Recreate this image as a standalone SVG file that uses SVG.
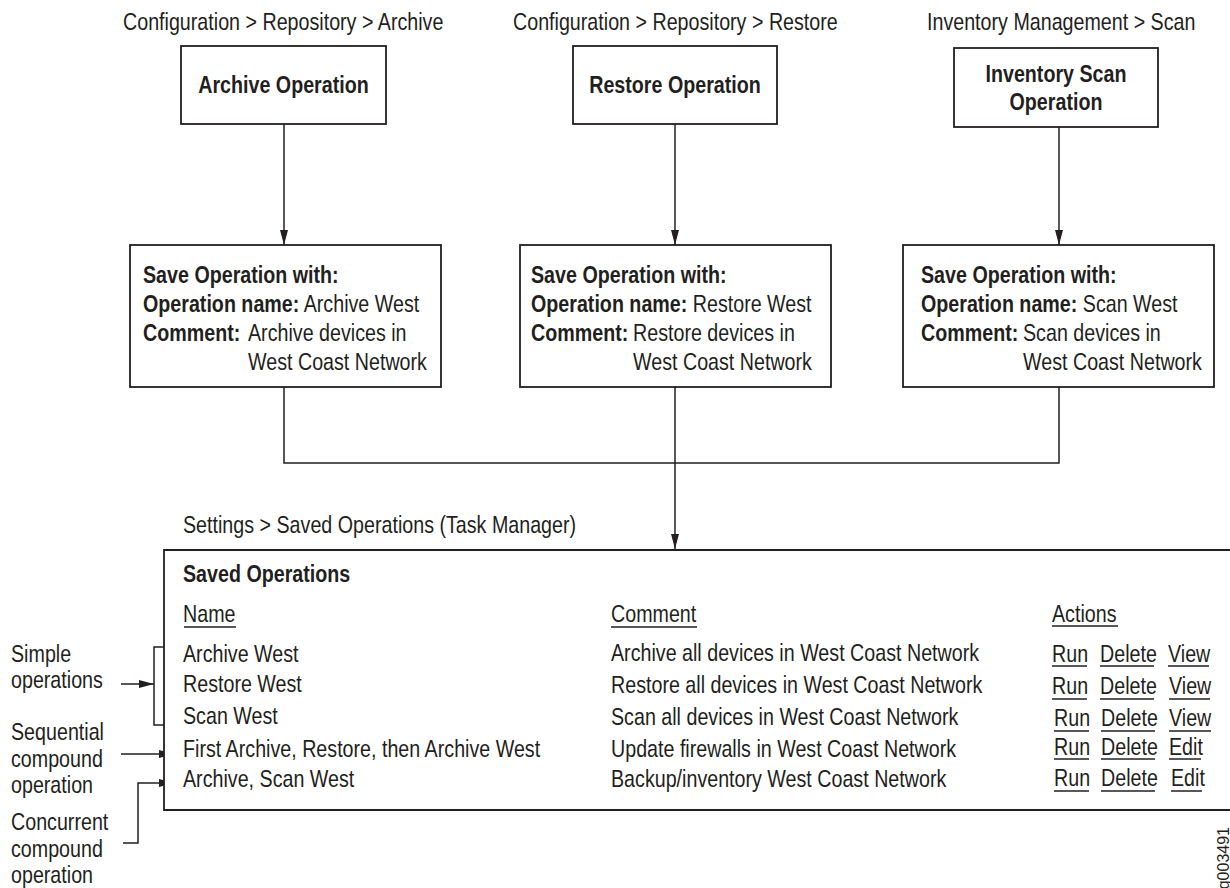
<svg xmlns="http://www.w3.org/2000/svg" width="1230" height="888" viewBox="0 0 1230 888">
<style>
text{font-family:"Liberation Sans",Arial,"Helvetica",sans-serif;font-size:24px;fill:#231f20}
.b{font-weight:bold}
.box{fill:#fff;stroke:#231f20;stroke-width:1.8}
.ln{fill:none;stroke:#231f20;stroke-width:1.5}
.ul{fill:none;stroke:#231f20;stroke-width:1.5}
.mid{text-anchor:middle}
</style>
<defs>
<marker id="ah" viewBox="0 0 15 8" refX="15" refY="4" markerWidth="15" markerHeight="8" markerUnits="userSpaceOnUse" orient="auto">
<path d="M0,0 L15,4 L0,8 Z" fill="#231f20"/>
</marker>
</defs>
<rect width="1230" height="888" fill="#fff"/>

<g id="labels">
<text transform="translate(123,30) scale(.82,1)">Configuration &gt; Repository &gt; Archive</text>
<text transform="translate(513,30) scale(.82,1)">Configuration &gt; Repository &gt; Restore</text>
<text transform="translate(927,30) scale(.82,1)">Inventory Management &gt; Scan</text>
<text transform="translate(183,533) scale(.82,1)">Settings &gt; Saved Operations (Task Manager)</text>
</g>

<g id="archive-op">
<rect class="box" x="181" y="46" width="205" height="78"/>
<text class="b mid" transform="translate(283.5,93) scale(.82,1)">Archive Operation</text>
</g>
<g id="restore-op">
<rect class="box" x="573" y="46" width="204" height="78"/>
<text class="b mid" transform="translate(675,93) scale(.82,1)">Restore Operation</text>
</g>
<g id="scan-op">
<rect class="box" x="954" y="48" width="204" height="79"/>
<text class="b mid" transform="translate(1056,82) scale(.82,1)">Inventory Scan</text>
<text class="b mid" transform="translate(1056,110) scale(.82,1)">Operation</text>
</g>

<g id="archive-save">
<rect class="box" x="130" y="245" width="311" height="142"/>
<text class="b" transform="translate(143,283) scale(.82,1)">Save Operation with:</text>
<text transform="translate(143,312) scale(.82,1)"><tspan class="b">Operation name:</tspan> Archive West</text>
<text class="b" transform="translate(143,341) scale(.82,1)">Comment:</text>
<text transform="translate(248,341) scale(.82,1)">Archive devices in</text>
<text transform="translate(248,370) scale(.82,1)">West Coast Network</text>
</g>
<g id="restore-save">
<rect class="box" x="520" y="245" width="311" height="142"/>
<text class="b" transform="translate(531,283) scale(.82,1)">Save Operation with:</text>
<text transform="translate(531,312) scale(.82,1)"><tspan class="b">Operation name:</tspan> Restore West</text>
<text class="b" transform="translate(531,341) scale(.82,1)">Comment:</text>
<text transform="translate(633,341) scale(.82,1)">Restore devices in</text>
<text transform="translate(633,370) scale(.82,1)">West Coast Network</text>
</g>
<g id="scan-save">
<rect class="box" x="903" y="245" width="311" height="142"/>
<text class="b" transform="translate(921,283) scale(.82,1)">Save Operation with:</text>
<text transform="translate(921,312) scale(.82,1)"><tspan class="b">Operation name:</tspan> Scan West</text>
<text class="b" transform="translate(921,341) scale(.82,1)">Comment:</text>
<text transform="translate(1023,341) scale(.82,1)">Scan devices in</text>
<text transform="translate(1023,370) scale(.82,1)">West Coast Network</text>
</g>

<g id="connectors">
<line class="ln" x1="284" y1="124" x2="284" y2="245" marker-end="url(#ah)"/>
<line class="ln" x1="675" y1="124" x2="675" y2="245" marker-end="url(#ah)"/>
<line class="ln" x1="1059" y1="127" x2="1059" y2="245" marker-end="url(#ah)"/>
<polyline class="ln" points="284,387 284,463 1059,463 1059,387"/>
<line class="ln" x1="675" y1="387" x2="675" y2="549" marker-end="url(#ah)"/>
<polyline class="ln" points="175,647 154,647 154,725 175,725"/>
<line class="ln" x1="121" y1="684" x2="154" y2="684" marker-end="url(#ah)"/>
<line class="ln" x1="121" y1="754" x2="174" y2="754" marker-end="url(#ah)"/>
<polyline class="ln" points="123,843 138,843 138,783 174,783" marker-end="url(#ah)"/>
</g>

<g id="saved-operations">
<path class="box" d="M1232,550 H164 V810 H1232" fill="none"/>
<text class="b" transform="translate(183,582) scale(.82,1)">Saved Operations</text>
<text transform="translate(183,622) scale(.82,1)">Name</text>
<line class="ul" x1="184" y1="627" x2="236" y2="627"/>
<text transform="translate(611,622) scale(.82,1)">Comment</text>
<line class="ul" x1="611" y1="627" x2="697" y2="627"/>
<text transform="translate(1052,622) scale(.82,1)">Actions</text>
<line class="ul" x1="1052" y1="626" x2="1118" y2="626"/>

<text transform="translate(183,662) scale(.82,1)">Archive West</text>
<text transform="translate(183,692) scale(.82,1)">Restore West</text>
<text transform="translate(183,724) scale(.82,1)">Scan West</text>
<text transform="translate(183,757) scale(.82,1)">First Archive, Restore, then Archive West</text>
<text transform="translate(183,787) scale(.82,1)">Archive, Scan West</text>

<text transform="translate(611,661) scale(.82,1)">Archive all devices in West Coast Network</text>
<text transform="translate(611,693) scale(.82,1)">Restore all devices in West Coast Network</text>
<text transform="translate(611,725) scale(.82,1)">Scan all devices in West Coast Network</text>
<text transform="translate(611,757) scale(.82,1)">Update firewalls in West Coast Network</text>
<text transform="translate(611,787) scale(.82,1)">Backup/inventory West Coast Network</text>

<text transform="translate(1052,662) scale(.82,1)">Run</text><line class="ul" x1="1052" y1="666" x2="1087" y2="666"/>
<text transform="translate(1100,662) scale(.82,1)">Delete</text><line class="ul" x1="1100" y1="666" x2="1154" y2="666"/>
<text transform="translate(1168,662) scale(.82,1)">View</text><line class="ul" x1="1168" y1="666" x2="1209" y2="666"/>

<text transform="translate(1052,694) scale(.82,1)">Run</text><line class="ul" x1="1052" y1="699" x2="1087" y2="699"/>
<text transform="translate(1100,694) scale(.82,1)">Delete</text><line class="ul" x1="1100" y1="699" x2="1154" y2="699"/>
<text transform="translate(1169,694) scale(.82,1)">View</text><line class="ul" x1="1169" y1="699" x2="1210" y2="699"/>

<text transform="translate(1054,726) scale(.82,1)">Run</text><line class="ul" x1="1054" y1="731" x2="1089" y2="731"/>
<text transform="translate(1101,726) scale(.82,1)">Delete</text><line class="ul" x1="1101" y1="731" x2="1155" y2="731"/>
<text transform="translate(1169,726) scale(.82,1)">View</text><line class="ul" x1="1169" y1="731" x2="1211" y2="731"/>

<text transform="translate(1054,755) scale(.82,1)">Run</text><line class="ul" x1="1054" y1="759" x2="1089" y2="759"/>
<text transform="translate(1101,755) scale(.82,1)">Delete</text><line class="ul" x1="1101" y1="759" x2="1155" y2="759"/>
<text transform="translate(1169,755) scale(.82,1)">Edit</text><line class="ul" x1="1169" y1="759" x2="1201" y2="759"/>

<text transform="translate(1054,786) scale(.82,1)">Run</text><line class="ul" x1="1054" y1="791" x2="1089" y2="791"/>
<text transform="translate(1101,786) scale(.82,1)">Delete</text><line class="ul" x1="1101" y1="791" x2="1155" y2="791"/>
<text transform="translate(1171,786) scale(.82,1)">Edit</text><line class="ul" x1="1171" y1="791" x2="1202" y2="791"/>
</g>

<g id="annotations">
<text transform="translate(11,662) scale(.82,1)">Simple</text>
<text transform="translate(11,688) scale(.82,1)">operations</text>
<text transform="translate(11,740) scale(.82,1)">Sequential</text>
<text transform="translate(11,767) scale(.82,1)">compound</text>
<text transform="translate(11,793) scale(.82,1)">operation</text>
<text transform="translate(11,830) scale(.82,1)">Concurrent</text>
<text transform="translate(11,857) scale(.82,1)">compound</text>
<text transform="translate(11,883) scale(.82,1)">operation</text>
</g>

<text transform="translate(1229,827) rotate(-90)" style="font-size:16px;text-anchor:end">g003491</text>
</svg>
